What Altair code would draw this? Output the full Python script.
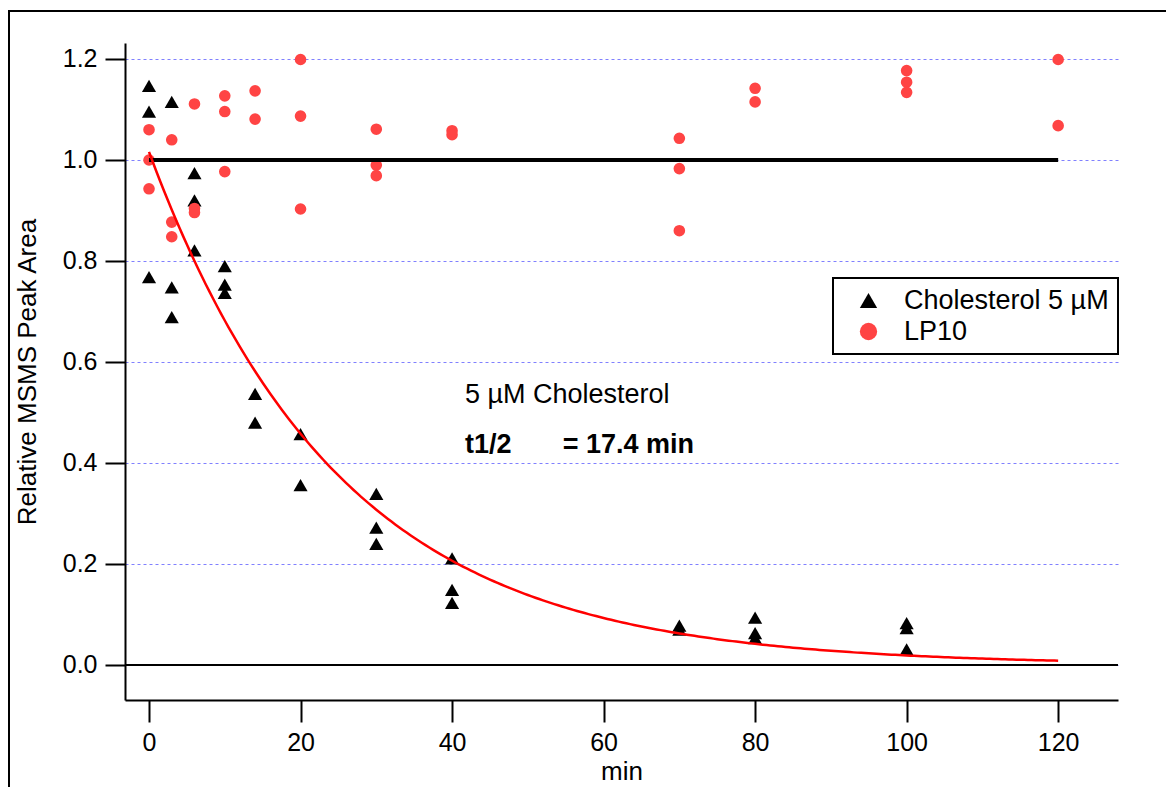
import altair as alt
import numpy as np
import pandas as pd

# ---- data ----
chol_t = [0, 0, 0, 3, 3, 3, 6, 6, 6, 10, 10, 10, 14, 14, 20, 20, 30, 30, 30,
          40, 40, 40, 70, 70, 80, 80, 80, 100, 100, 100]
chol_v = [1.147, 1.096, 0.768, 1.115, 0.748, 0.689, 0.974, 0.920, 0.821,
          0.790, 0.753, 0.737, 0.537, 0.480, 0.457, 0.356, 0.339, 0.272, 0.240,
          0.211, 0.149, 0.123, 0.078, 0.070, 0.094, 0.063, 0.053, 0.083, 0.073, 0.031]

lp_t = [0, 0, 0, 3, 3, 3, 6, 6, 6, 10, 10, 10, 14, 14, 20, 20, 20, 30, 30, 30,
        40, 40, 70, 70, 70, 80, 80, 100, 100, 100, 120, 120]
lp_v = [1.060, 1.000, 0.943, 1.040, 0.877, 0.848, 1.111, 0.904, 0.896,
        1.127, 1.096, 0.977, 1.137, 1.081, 1.199, 1.087, 0.903, 1.061, 0.990, 0.969,
        1.058, 1.050, 1.043, 0.983, 0.860, 1.142, 1.115, 1.177, 1.154, 1.134,
        1.199, 1.068]

series_names = ["Cholesterol 5 µM", "LP10"]
x_ticks = [0, 20, 40, 60, 80, 100, 120]
y_ticks = [0.0, 0.2, 0.4, 0.6, 0.8, 1.0, 1.2]

# exponential fit shown on the chart (A0 and half-life from the annotation)
fit_a0 = 1.016
fit_half_life = 17.4
fit_t = np.linspace(0, 120, 241)
fit_v = fit_a0 * np.exp(-np.log(2) * fit_t / fit_half_life)

chol_df = pd.DataFrame({"t": chol_t, "value": chol_v, "series": series_names[0]})
lp_df = pd.DataFrame({"t": lp_t, "value": lp_v, "series": series_names[1]})
fit_df = pd.DataFrame({"t": fit_t, "value": fit_v})

FONT = "Liberation Sans"

xscale = alt.Scale(domain=[-3.17, 127.9], nice=False, zero=False)
yscale = alt.Scale(domain=[-0.069307, 1.231683], nice=False, zero=False)

xaxis = alt.Axis(values=x_ticks, format="d", grid=False)
yaxis = alt.Axis(values=y_ticks, format=".1f", grid=True)

X = alt.X("t:Q", scale=xscale, axis=xaxis, title="min")
Y = alt.Y("value:Q", scale=yscale, axis=yaxis, title="Relative MSMS Peak Area")

legend = alt.Legend(title=None, orient="none", legendX=708, legendY=235,
                    strokeColor="black", fillColor="white", padding=9,
                    labelFontSize=27, labelFont=FONT, labelColor="black", labelLimit=0,
                    symbolSize=300, symbolStrokeWidth=0, symbolOffset=13,
                    labelOffset=22, rowPadding=3)
color = alt.Color("series:N",
                  scale=alt.Scale(domain=series_names, range=["black", "#ff4444"]),
                  legend=legend)
shape = alt.Shape("series:N",
                  scale=alt.Scale(domain=series_names, range=["triangle-up", "circle"]),
                  legend=legend)

frame = alt.Chart(alt.Data(values=[{}])).mark_rect(
    fillOpacity=0, stroke="black", strokeWidth=2
).encode(x=alt.value(-116), x2=alt.value(1300), y=alt.value(-32), y2=alt.value(900))

zero_rule = alt.Chart(alt.Data(values=[{}])).mark_rule(color="black", strokeWidth=2).encode(
    y=alt.datum(0, scale=yscale))

tri = alt.Chart(chol_df).mark_point(filled=True, opacity=1, size=200).encode(
    x=X, y=Y, color=color, shape=shape)
circ = alt.Chart(lp_df).mark_point(filled=True, opacity=1, size=135).encode(
    x=X, y=Y, color=color, shape=shape)

unity = alt.Chart(alt.Data(values=[{}])).mark_rule(color="black", strokeWidth=4).encode(
    x=alt.datum(0), x2=alt.datum(120), y=alt.datum(1.0))

fit = alt.Chart(fit_df).mark_line(color="#ff0000", strokeWidth=2.5).encode(
    x=alt.X("t:Q"), y=alt.Y("value:Q"))

txt1 = alt.Chart(alt.Data(values=[{}])).mark_text(
    text="5 µM Cholesterol", font=FONT, fontSize=27, align="left", baseline="alphabetic",
    color="black").encode(x=alt.datum(41.7), y=alt.datum(0.519))
txt2 = alt.Chart(alt.Data(values=[{}])).mark_text(
    text="t1/2", font=FONT, fontSize=27, fontWeight="bold", align="left",
    baseline="alphabetic", color="black").encode(x=alt.datum(41.7), y=alt.datum(0.420))
txt3 = alt.Chart(alt.Data(values=[{}])).mark_text(
    text="= 17.4 min", font=FONT, fontSize=27, fontWeight="bold", align="left",
    baseline="alphabetic", color="black").encode(x=alt.datum(54.6), y=alt.datum(0.420))

chart = alt.layer(frame, zero_rule, tri, circ, unity, fit, txt1, txt2, txt3).properties(
    width=993, height=657,
    autosize=alt.AutoSizeParams(type="none"),
    padding={"left": 117, "top": 35, "right": 48, "bottom": 87},
    background="white",
).configure(
    font=FONT
).configure_view(
    stroke=None
).configure_legend(
    strokeWidth=2
).configure_axis(
    tickColor="black", tickWidth=2, domainColor="black", domainWidth=2,
    labelFont=FONT, labelFontSize=25, labelColor="black",
    titleFont=FONT, titleFontSize=26, titleFontWeight="normal", titleColor="black",
    gridDash=[3, 3], gridColor="#8080ff", gridWidth=1, gridOpacity=1,
).configure_axisX(
    tickSize=22, labelPadding=8, titlePadding=3,
).configure_axisY(
    tickSize=20, labelPadding=8, titlePadding=22,
)

chart.save("out.html", embed_options={"renderer": "svg", "actions": False})
